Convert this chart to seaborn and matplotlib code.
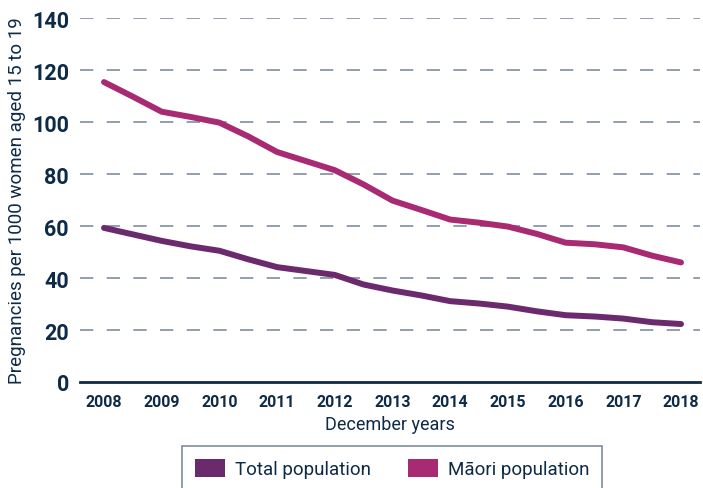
import matplotlib
matplotlib.use("Agg")
import matplotlib.pyplot as plt
import pandas as pd
import seaborn as sns
from matplotlib.patches import Patch

# half-yearly readings
years = [2008.0, 2008.5, 2009.0, 2009.5, 2010.0, 2010.5, 2011.0, 2011.5, 2012.0, 2012.5,
         2013.0, 2013.5, 2014.0, 2014.5, 2015.0, 2015.5, 2016.0, 2016.5, 2017.0, 2017.5, 2018.0]
total_rate = [59.3, 56.8, 54.3, 52.2, 50.5, 47.2, 44.2, 42.7, 41.2, 37.5,
              35.2, 33.3, 31.1, 30.2, 29.0, 27.2, 25.7, 25.2, 24.4, 23.0, 22.3]
maori_rate = [115.4, 109.8, 104.0, 102.0, 99.8, 94.5, 88.5, 85.0, 81.5, 76.0,
              69.8, 66.2, 62.5, 61.3, 59.8, 57.0, 53.6, 53.0, 51.8, 48.6, 46.0]
series_names = ["Total population", "Māori population"]
series_colors = ["#6b2a6e", "#a82a72"]
tick_years = list(range(2008, 2019))
y_ticks = list(range(0, 141, 20))

TEXT = "#0d2a47"

df = pd.concat([
    pd.DataFrame({"year": years, "rate": total_rate, "series": series_names[0]}),
    pd.DataFrame({"year": years, "rate": maori_rate, "series": series_names[1]}),
])

sns.set_theme(style="white")
plt.rcParams["font.family"] = ["Roboto", "DejaVu Sans"]

fig = plt.figure(figsize=(7.03, 4.89), dpi=100)
ax = fig.add_axes([0.1138, 0.2168, 0.882, 0.744])

sns.lineplot(data=df, x="year", y="rate", hue="series", hue_order=series_names,
             palette=series_colors, linewidth=4.3, ax=ax, legend=False,
             solid_capstyle="round", solid_joinstyle="round")

ax.set_xlim(2007.584, 2018.33)
ax.set_ylim(0, 140)
ax.set_yticks(y_ticks)
ax.set_xticks(tick_years)
ax.set_yticklabels([str(v) for v in y_ticks], fontsize=15.5, fontweight="bold", color=TEXT)
ax.set_xticklabels([str(v) for v in tick_years], fontsize=11.5, fontweight="bold", color=TEXT)
ax.tick_params(axis="both", length=0)
ax.tick_params(axis="y", pad=8)
ax.tick_params(axis="x", pad=9)

for v in y_ticks[1:]:
    ax.axhline(v, color="#7f8ea1", linewidth=1.2, linestyle=(0, (8, 8)), zorder=0)

for s in ["top", "right", "left"]:
    ax.spines[s].set_visible(False)
ax.spines["bottom"].set_color(TEXT)
ax.spines["bottom"].set_linewidth(2)

ax.set_xlabel("December years", fontsize=13, color=TEXT, labelpad=4)
ax.set_ylabel("Pregnancies per 1000 women aged 15 to 19", fontsize=13.5, color=TEXT, labelpad=4)

handles = [Patch(facecolor=c, edgecolor="none") for c in series_colors]
leg = fig.legend(handles, series_names, loc="upper center", bbox_to_anchor=(0.558, 0.086),
                 ncol=2, frameon=True, fontsize=13.5, handlelength=1.6, handleheight=1.1,
                 handletextpad=0.5, columnspacing=2.0, borderpad=0.7, borderaxespad=0,
                 fancybox=False)
leg.get_frame().set_edgecolor("#5f6f80")
leg.get_frame().set_linewidth(1.2)
for t in leg.get_texts():
    t.set_color(TEXT)

fig.savefig("out.png", dpi=100)
